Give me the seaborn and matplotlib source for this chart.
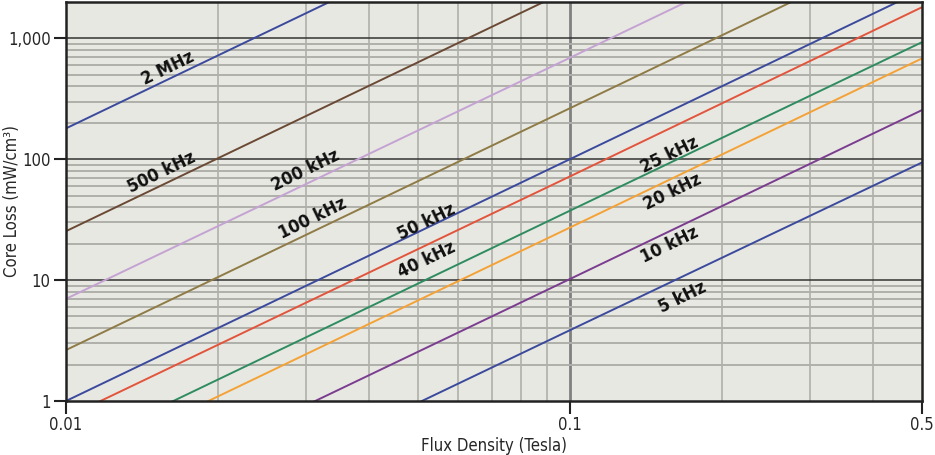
import pandas as pd
import matplotlib.pyplot as plt
import seaborn as sns
from matplotlib.ticker import FixedLocator

# flux density points (Tesla) and core loss read at them (mW/cm^3)
flux = [0.01, 0.1, 0.5]
freqs = ["2 MHz", "500 kHz", "200 kHz", "100 kHz", "50 kHz",
         "40 kHz", "25 kHz", "20 kHz", "10 kHz", "5 kHz"]
loss_2mhz = [180, 18000, 450000]
loss_500k = [25.4, 2540, 63500]
loss_200k = [7.0, 690, 17200]
loss_100k = [2.64, 264, 6600]
loss_50k = [1.0, 100, 2500]
loss_40k = [0.73, 72, 1810]
loss_25k = [0.375, 37.5, 930]
loss_20k = [0.272, 27.2, 682]
loss_10k = [0.103, 10.2, 255]
loss_5k = [0.039, 3.85, 94]
losses = [loss_2mhz, loss_500k, loss_200k, loss_100k, loss_50k,
          loss_40k, loss_25k, loss_20k, loss_10k, loss_5k]

colors = ["#3b4a9c", "#6b4a35", "#c4a3d3", "#8e7b45", "#3b4a9c",
          "#e2553c", "#2e8c60", "#f4a236", "#7b3d8f", "#3b4a9c"]

# label anchor points (flux, loss)
label_x = [0.0159, 0.0155, 0.0299, 0.0309, 0.0519, 0.0519, 0.1575, 0.1597, 0.158, 0.167]
label_y = [565, 78, 81, 32.5, 30.2, 14.6, 108, 53.4, 19.5, 7.24]

rows = []
for f, vals in zip(freqs, losses):
    for b, p in zip(flux, vals):
        rows.append({"flux": b, "loss": p, "freq": f})
df = pd.DataFrame(rows)

sns.set_style("ticks")
plt.rcParams['font.family'] = ['DejaVu Sans']
plt.rcParams['font.stretch'] = 'condensed'

fig = plt.figure(figsize=(9.35, 4.55), dpi=100)
ax = fig.add_axes([0.0706, 0.1187, 0.9155, 0.877])
ax.set_facecolor("#e8e8e3")

sns.lineplot(data=df, x="flux", y="loss", hue="freq", hue_order=freqs,
             palette=dict(zip(freqs, colors)), linewidth=1.4, legend=False,
             ax=ax, zorder=3)

ax.set_xscale("log")
ax.set_yscale("log")
ax.set_xlim(0.01, 0.5)
ax.set_ylim(1, 2000)

# grid lines
for v in [0.02, 0.03, 0.04, 0.05, 0.06, 0.07, 0.08, 0.09, 0.2, 0.3, 0.4]:
    ax.axvline(v, color="#b0b0aa", lw=1.2, zorder=1)
ax.axvline(0.1, color="#808080", lw=2.0, zorder=1)
for d in [1, 10, 100, 1000]:
    for m in range(2, 10):
        if d * m < 2000:
            ax.axhline(d * m, color="#b0b0aa", lw=1.4, zorder=1)
for v in [10, 100, 1000]:
    ax.axhline(v, color="#333333", lw=1.1, zorder=2)

ax.xaxis.set_major_locator(FixedLocator([0.01, 0.1, 0.5]))
ax.xaxis.set_minor_locator(FixedLocator([]))
ax.set_xticklabels(["0.01", "0.1", "0.5"], fontsize=12)
ax.yaxis.set_major_locator(FixedLocator([1, 10, 100, 1000]))
ax.yaxis.set_minor_locator(FixedLocator([]))
ax.set_yticklabels(["1", "10", "100", "1,000"], fontsize=12)
ax.tick_params(axis="both", length=9, width=1.5, color="#222222", pad=2)
for s in ax.spines.values():
    s.set_linewidth(1.8)
    s.set_color("#222222")
    s.set_zorder(5)

ax.set_xlabel("Flux Density (Tesla)", fontsize=12, labelpad=2)
ax.set_ylabel("Core Loss (mW/cm³)", fontsize=12)
ax.yaxis.set_label_coords(-0.052, 0.5)

for t, x, y in zip(freqs, label_x, label_y):
    ax.text(x, y, t, fontsize=13, fontweight="bold", rotation=26,
            ha="center", va="center", zorder=4, color="#111111")

plt.savefig("out.png", dpi=100)
plt.close()
